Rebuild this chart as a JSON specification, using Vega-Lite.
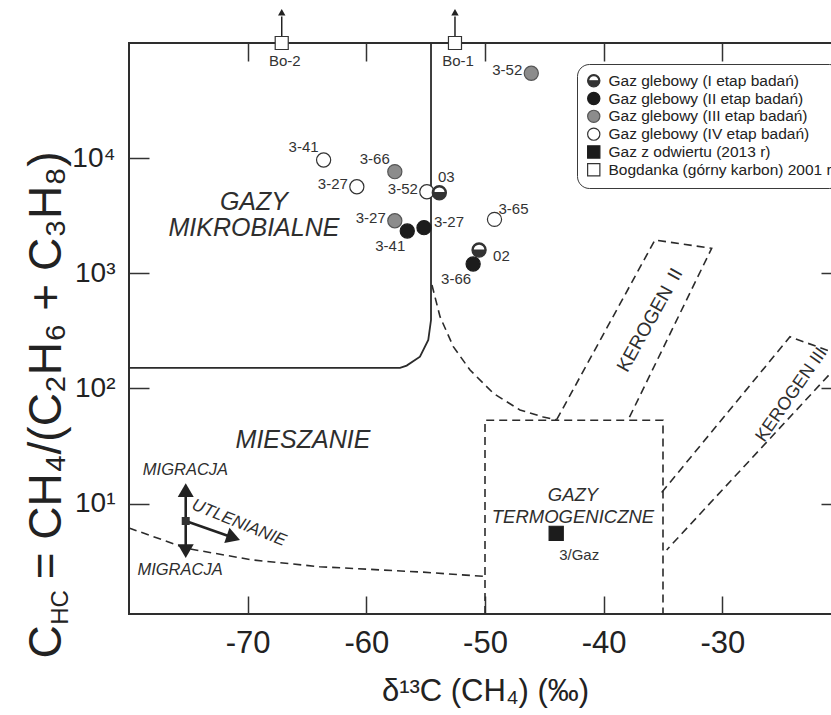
{
  "$schema": "https://vega.github.io/schema/vega-lite/v6.json",
  "width": 712,
  "height": 571,
  "autosize": {"type": "none"},
  "padding": {"left": 129, "top": 43, "right": 0, "bottom": 101},
  "background": "#ffffff",
  "config": {
    "font": "Liberation Sans",
    "view": {"stroke": "#2e2e2e", "strokeWidth": 2},
    "axis": {"grid": false, "domain": false, "tickColor": "#333333", "tickWidth": 1.5, "labelColor": "#222222", "titleColor": "#222222", "labelFont": "Liberation Sans", "titleFont": "Liberation Sans", "titleFontWeight": "normal"},
    "legend": {"orient": "none", "legendX": 448, "legendY": 21, "padding": 9, "strokeColor": "#3a3a3a", "fillColor": "#ffffff", "cornerRadius": 12, "symbolSize": 150, "symbolStrokeWidth": 1.2, "labelFont": "Liberation Sans", "labelFontSize": 15.5, "labelColor": "#222222", "labelLimit": 400, "labelOffset": 7},
    "text": {"font": "Liberation Sans", "color": "#2b2b2b"}
  },
  "datasets": {
    "lines": [
      {"id": "mikro", "i": 1, "kind": "solid", "x": -54.55, "y": 100000},
      {"id": "mikro", "i": 2, "kind": "solid", "x": -54.55, "y": 393},
      {"id": "mikro", "i": 3, "kind": "solid", "x": -54.78, "y": 264},
      {"id": "mikro", "i": 4, "kind": "solid", "x": -55.48, "y": 189},
      {"id": "mikro", "i": 5, "kind": "solid", "x": -56.6, "y": 158},
      {"id": "mikro", "i": 6, "kind": "solid", "x": -57.16, "y": 151},
      {"id": "mikro", "i": 7, "kind": "solid", "x": -80, "y": 151},
      {"id": "curve", "i": 1, "kind": "dashed", "x": -54.47, "y": 791},
      {"id": "curve", "i": 2, "kind": "dashed", "x": -53.79, "y": 420},
      {"id": "curve", "i": 3, "kind": "dashed", "x": -52.67, "y": 230.5},
      {"id": "curve", "i": 4, "kind": "dashed", "x": -51.26, "y": 144.6},
      {"id": "curve", "i": 5, "kind": "dashed", "x": -49.3, "y": 90.8},
      {"id": "curve", "i": 6, "kind": "dashed", "x": -47.05, "y": 65},
      {"id": "curve", "i": 7, "kind": "dashed", "x": -45.09, "y": 56.5},
      {"id": "curve", "i": 8, "kind": "dashed", "x": -43.96, "y": 53.5},
      {"id": "mix", "i": 1, "kind": "dashed", "x": -80, "y": 6.14},
      {"id": "mix", "i": 2, "kind": "dashed", "x": -75.17, "y": 4.09},
      {"id": "mix", "i": 3, "kind": "dashed", "x": -69.58, "y": 3.24},
      {"id": "mix", "i": 4, "kind": "dashed", "x": -63.92, "y": 2.83},
      {"id": "mix", "i": 5, "kind": "dashed", "x": -55.49, "y": 2.55},
      {"id": "mix", "i": 6, "kind": "dashed", "x": -50, "y": 2.33},
      {"id": "thermo", "i": 1, "kind": "dashed", "x": -50, "y": 1.1},
      {"id": "thermo", "i": 2, "kind": "dashed", "x": -50, "y": 53},
      {"id": "thermo", "i": 3, "kind": "dashed", "x": -35, "y": 53},
      {"id": "thermo", "i": 4, "kind": "dashed", "x": -35, "y": 1.1},
      {"id": "k2", "i": 1, "kind": "dashed", "x": -43.96, "y": 53.5},
      {"id": "k2", "i": 2, "kind": "dashed", "x": -35.68, "y": 1946},
      {"id": "k2", "i": 3, "kind": "dashed", "x": -30.9, "y": 1649},
      {"id": "k2", "i": 4, "kind": "dashed", "x": -37.95, "y": 53},
      {"id": "k3", "i": 1, "kind": "dashed", "x": -35.11, "y": 12.5},
      {"id": "k3", "i": 2, "kind": "dashed", "x": -24.3, "y": 281},
      {"id": "k3", "i": 3, "kind": "dashed", "x": -19.61, "y": 187.6},
      {"id": "k3", "i": 4, "kind": "dashed", "x": -34.69, "y": 3.96},
      {"id": "migr", "i": 1, "kind": "arrow", "x": -75.22, "y": 13.1},
      {"id": "migr", "i": 2, "kind": "arrow", "x": -75.22, "y": 3.87},
      {"id": "utl", "i": 1, "kind": "arrow", "x": -75.22, "y": 7.06},
      {"id": "utl", "i": 2, "kind": "arrow", "x": -71.2, "y": 5.06},
      {"id": "bo2", "i": 1, "kind": "thin", "x": -67.13, "y": 115000},
      {"id": "bo2", "i": 2, "kind": "thin", "x": -67.13, "y": 170000},
      {"id": "bo1", "i": 1, "kind": "thin", "x": -52.53, "y": 115000},
      {"id": "bo1", "i": 2, "kind": "thin", "x": -52.53, "y": 170000}
    ],
    "heads": [
      {"kind": "up", "x": -75.22, "y": 13.1},
      {"kind": "down", "x": -75.22, "y": 3.87},
      {"kind": "utl", "x": -71.2, "y": 5.06},
      {"kind": "junction", "x": -75.22, "y": 7.06},
      {"kind": "bo", "x": -67.13, "y": 185000},
      {"kind": "bo", "x": -52.53, "y": 185000}
    ],
    "annot": [
      {"kind": "region", "text": "GAZY\nMIKROBIALNE", "x": -69.47, "y": 4120},
      {"kind": "region", "text": "MIESZANIE", "x": -65.34, "y": 35.7},
      {"kind": "thermo", "text": "GAZY\nTERMOGENICZNE", "x": -42.59, "y": 11.88},
      {"kind": "migr", "text": "MIGRACJA", "x": -75.24, "y": 19.6},
      {"kind": "migr", "text": "MIGRACJA", "x": -75.7, "y": 2.65},
      {"kind": "utl", "text": "UTLENIANIE", "x": -70.73, "y": 6.79},
      {"kind": "k2", "text": "KEROGEN\u2002II", "x": -36.1, "y": 393},
      {"kind": "k3", "text": "KEROGEN III", "x": -24.16, "y": 87.8},
      {"kind": "sub", "text": "HC", "x": -85.14, "y": 0.886}
    ],
    "pts": [
      {"x": -46.1, "y": 54600, "group": "Gaz glebowy (III etap badań)", "label": "3-52", "pos": "W"},
      {"x": -57.6, "y": 7630, "group": "Gaz glebowy (III etap badań)", "label": "3-66", "pos": "NW"},
      {"x": -57.6, "y": 2860, "group": "Gaz glebowy (III etap badań)", "label": "3-27", "pos": "W"},
      {"x": -56.55, "y": 2330, "group": "Gaz glebowy (II etap badań)", "label": "3-41", "pos": "SW"},
      {"x": -55.14, "y": 2490, "group": "Gaz glebowy (II etap badań)", "label": "3-27", "pos": "E"},
      {"x": -51.0, "y": 1205, "group": "Gaz glebowy (II etap badań)", "label": "3-66", "pos": "SW"},
      {"x": -63.6, "y": 9640, "group": "Gaz glebowy (IV etap badań)", "label": "3-41", "pos": "NW"},
      {"x": -60.8, "y": 5650, "group": "Gaz glebowy (IV etap badań)", "label": "3-27", "pos": "W"},
      {"x": -54.9, "y": 5110, "group": "Gaz glebowy (IV etap badań)", "label": "3-52", "pos": "W"},
      {"x": -49.2, "y": 2940, "group": "Gaz glebowy (IV etap badań)", "label": "3-65", "pos": "NE"},
      {"x": -53.85, "y": 5010, "group": "Gaz glebowy (I etap badań)", "label": "03", "pos": "N"},
      {"x": -50.5, "y": 1593, "group": "Gaz glebowy (I etap badań)", "label": "02", "pos": "SE"},
      {"x": -44.0, "y": 5.52, "group": "Gaz z odwiertu (2013 r)", "label": "3/Gaz", "pos": "S2"},
      {"x": -67.13, "y": 100000, "group": "Bogdanka (górny karbon) 2001 r", "label": "Bo-2", "pos": "S"},
      {"x": -52.53, "y": 100000, "group": "Bogdanka (górny karbon) 2001 r", "label": "Bo-1", "pos": "S"}
    ]
  },
  "encoding": {
    "x": {"field": "x", "type": "quantitative", "scale": {"domain": [-80, -20], "nice": false, "zero": false}, "axis": null},
    "y": {"field": "y", "type": "quantitative", "scale": {"type": "log", "domain": [1.1, 100000], "nice": false}, "axis": null}
  },
  "layer": [
    {
      "data": {"name": "lines"},
      "transform": [{"filter": "datum.kind == 'solid'"}],
      "mark": {"type": "line", "stroke": "#2b2b2b", "strokeWidth": 1.8, "clip": false},
      "encoding": {
        "x": {"field": "x", "type": "quantitative", "scale": {"domain": [-80, -20], "nice": false, "zero": false},
          "axis": {"orient": "bottom", "values": [-70, -60, -50, -40, -30], "tickSize": -18, "labelPadding": 56, "labelBaseline": "alphabetic", "labelFontSize": 31, "labelFlush": false, "labelOverlap": false, "labelExpr": "'-' + (-datum.value)", "title": "δ¹³C (CH₄) (‰)", "titleFontSize": 31, "titleY": 86, "titleBaseline": "alphabetic"}},
        "y": {"field": "y", "type": "quantitative", "scale": {"type": "log", "domain": [1.1, 100000], "nice": false},
          "axis": {"orient": "left", "values": [10, 100, 1000, 10000], "tickSize": -20, "labelPadding": 34, "labelFontSize": 28, "labelFlush": false, "labelOverlap": false, "labelExpr": "datum.value == 10 ? '10¹' : datum.value == 100 ? '10²' : datum.value == 1000 ? '10³' : '10⁴'", "title": "C\u2002\u2002= CH₄/(C₂H₆ + C₃H₈)", "titleFontSize": 46, "titleAngle": 270, "titleAlign": "left", "titleBaseline": "alphabetic", "titleX": -69, "titleY": 615}},
        "detail": {"field": "id"},
        "order": {"field": "i", "type": "quantitative"}
      }
    },
    {
      "data": {"name": "lines"},
      "transform": [{"filter": "datum.kind == 'dashed'"}],
      "mark": {"type": "line", "stroke": "#2b2b2b", "strokeWidth": 1.6, "strokeDash": [8, 5], "clip": false},
      "encoding": {
        "x": {"field": "x", "type": "quantitative", "scale": {"domain": [-80, -20], "nice": false, "zero": false},
          "axis": {"orient": "top", "values": [-70, -60, -50, -40, -30], "tickSize": -18, "labels": false, "title": null}},
        "y": {"field": "y", "type": "quantitative", "scale": {"type": "log", "domain": [1.1, 100000], "nice": false},
          "axis": {"orient": "right", "values": [10, 100, 1000, 10000], "tickSize": -20, "labels": false, "title": null}},
        "detail": {"field": "id"},
        "order": {"field": "i", "type": "quantitative"}
      }
    },
    {
      "data": {"name": "lines"},
      "transform": [{"filter": "datum.kind == 'arrow'"}],
      "mark": {"type": "line", "stroke": "#222222", "strokeWidth": 2.6, "clip": false},
      "encoding": {"detail": {"field": "id"}, "order": {"field": "i", "type": "quantitative"}}
    },
    {
      "data": {"name": "lines"},
      "transform": [{"filter": "datum.kind == 'thin'"}],
      "mark": {"type": "line", "stroke": "#222222", "strokeWidth": 1.5, "clip": false},
      "encoding": {"detail": {"field": "id"}, "order": {"field": "i", "type": "quantitative"}}
    },
    {
      "data": {"name": "heads"},
      "transform": [{"filter": "datum.kind == 'up'"}],
      "mark": {"type": "point", "shape": "triangle-up", "size": 256, "filled": true, "fill": "#222222", "opacity": 1, "strokeWidth": 0, "clip": false}
    },
    {
      "data": {"name": "heads"},
      "transform": [{"filter": "datum.kind == 'down'"}],
      "mark": {"type": "point", "shape": "triangle-down", "size": 256, "filled": true, "fill": "#222222", "opacity": 1, "strokeWidth": 0, "clip": false}
    },
    {
      "data": {"name": "heads"},
      "transform": [{"filter": "datum.kind == 'utl'"}],
      "mark": {"type": "point", "shape": "triangle-right", "angle": 19, "size": 256, "filled": true, "fill": "#222222", "opacity": 1, "strokeWidth": 0, "clip": false}
    },
    {
      "data": {"name": "heads"},
      "transform": [{"filter": "datum.kind == 'junction'"}],
      "mark": {"type": "point", "shape": "square", "size": 64, "filled": true, "fill": "#333333", "opacity": 1, "strokeWidth": 0, "clip": false}
    },
    {
      "data": {"name": "heads"},
      "transform": [{"filter": "datum.kind == 'bo'"}],
      "mark": {"type": "point", "shape": "triangle-up", "size": 55, "filled": true, "fill": "#222222", "opacity": 1, "strokeWidth": 0, "clip": false}
    },
    {
      "data": {"name": "annot"},
      "transform": [{"filter": "datum.kind == 'region'"}],
      "mark": {"type": "text", "fontSize": 25, "fontStyle": "italic", "align": "center", "baseline": "middle", "lineBreak": "\n", "lineHeight": 26, "color": "#2e2e2e"},
      "encoding": {"text": {"field": "text"}}
    },
    {
      "data": {"name": "annot"},
      "transform": [{"filter": "datum.kind == 'thermo'"}],
      "mark": {"type": "text", "fontSize": 18.5, "fontStyle": "italic", "align": "center", "baseline": "middle", "lineBreak": "\n", "lineHeight": 22, "color": "#2e2e2e"},
      "encoding": {"text": {"field": "text"}}
    },
    {
      "data": {"name": "annot"},
      "transform": [{"filter": "datum.kind == 'migr'"}],
      "mark": {"type": "text", "fontSize": 16.5, "fontStyle": "italic", "align": "center", "baseline": "middle", "color": "#2e2e2e", "clip": false},
      "encoding": {"text": {"field": "text"}}
    },
    {
      "data": {"name": "annot"},
      "transform": [{"filter": "datum.kind == 'utl'"}],
      "mark": {"type": "text", "fontSize": 17, "fontStyle": "italic", "align": "center", "baseline": "middle", "angle": 22, "color": "#2e2e2e"},
      "encoding": {"text": {"field": "text"}}
    },
    {
      "data": {"name": "annot"},
      "transform": [{"filter": "datum.kind == 'k2'"}],
      "mark": {"type": "text", "fontSize": 19, "align": "center", "baseline": "middle", "angle": -61, "color": "#2e2e2e"},
      "encoding": {"text": {"field": "text"}}
    },
    {
      "data": {"name": "annot"},
      "transform": [{"filter": "datum.kind == 'k3'"}],
      "mark": {"type": "text", "fontSize": 18, "align": "center", "baseline": "middle", "angle": -55, "color": "#2e2e2e"},
      "encoding": {"text": {"field": "text"}}
    },
    {
      "data": {"name": "annot"},
      "transform": [{"filter": "datum.kind == 'sub'"}],
      "mark": {"type": "text", "fontSize": 24, "align": "left", "baseline": "alphabetic", "angle": 270, "color": "#222222"},
      "encoding": {"text": {"field": "text"}}
    },
    {
      "data": {"name": "pts"},
      "transform": [{"filter": "datum.group != 'Bogdanka (górny karbon) 2001 r'"}],
      "mark": {"type": "point", "filled": true, "opacity": 1, "strokeWidth": 1.2, "size": 200, "clip": false},
      "encoding": {
        "shape": {"field": "group", "type": "nominal",
          "scale": {"domain": ["Gaz glebowy (I etap badań)", "Gaz glebowy (II etap badań)", "Gaz glebowy (III etap badań)", "Gaz glebowy (IV etap badań)", "Gaz z odwiertu (2013 r)", "Bogdanka (górny karbon) 2001 r"],
            "range": ["M-1,0A1,1,0,0,0,1,0Z M-1,0A1,1,0,0,1,1,0L0.84,0A0.84,0.84,0,0,0,-0.84,0Z", "circle", "circle", "circle", "square", "square"]},
          "legend": {"title": null, "rowPadding": -0.2}},
        "fill": {"field": "group", "type": "nominal",
          "scale": {"domain": ["Gaz glebowy (I etap badań)", "Gaz glebowy (II etap badań)", "Gaz glebowy (III etap badań)", "Gaz glebowy (IV etap badań)", "Gaz z odwiertu (2013 r)", "Bogdanka (górny karbon) 2001 r"],
            "range": ["#333333", "#1c1c1c", "#8c8c8c", "#ffffff", "#1c1c1c", "#ffffff"]},
          "legend": {"title": null, "rowPadding": -0.2}},
        "stroke": {"field": "group", "type": "nominal",
          "scale": {"domain": ["Gaz glebowy (I etap badań)", "Gaz glebowy (II etap badań)", "Gaz glebowy (III etap badań)", "Gaz glebowy (IV etap badań)", "Gaz z odwiertu (2013 r)", "Bogdanka (górny karbon) 2001 r"],
            "range": ["#333333", "#1c1c1c", "#555555", "#333333", "#1c1c1c", "#333333"]},
          "legend": {"title": null, "rowPadding": -0.2}}
      }
    },
    {
      "data": {"name": "pts"},
      "transform": [{"filter": "datum.group == 'Bogdanka (górny karbon) 2001 r'"}],
      "mark": {"type": "point", "filled": true, "opacity": 1, "strokeWidth": 1.2, "size": 170, "clip": false},
      "encoding": {
        "shape": {"field": "group", "type": "nominal", "legend": {"title": null, "rowPadding": -0.2}},
        "fill": {"field": "group", "type": "nominal", "legend": {"title": null, "rowPadding": -0.2}},
        "stroke": {"field": "group", "type": "nominal", "legend": {"title": null, "rowPadding": -0.2}}
      }
    },
    {"data": {"name": "pts"}, "transform": [{"filter": "datum.pos == 'W'"}], "mark": {"type": "text", "fontSize": 15, "align": "right", "baseline": "middle", "dx": -9, "dy": -3, "color": "#333333"}, "encoding": {"text": {"field": "label"}}},
    {"data": {"name": "pts"}, "transform": [{"filter": "datum.pos == 'NW'"}], "mark": {"type": "text", "fontSize": 15, "align": "right", "baseline": "middle", "dx": -5, "dy": -13, "color": "#333333"}, "encoding": {"text": {"field": "label"}}},
    {"data": {"name": "pts"}, "transform": [{"filter": "datum.pos == 'N'"}], "mark": {"type": "text", "fontSize": 15, "align": "center", "baseline": "middle", "dx": 7, "dy": -16, "color": "#333333"}, "encoding": {"text": {"field": "label"}}},
    {"data": {"name": "pts"}, "transform": [{"filter": "datum.pos == 'NE'"}], "mark": {"type": "text", "fontSize": 15, "align": "left", "baseline": "middle", "dx": 4, "dy": -10, "color": "#333333"}, "encoding": {"text": {"field": "label"}}},
    {"data": {"name": "pts"}, "transform": [{"filter": "datum.pos == 'E'"}], "mark": {"type": "text", "fontSize": 15, "align": "left", "baseline": "middle", "dx": 10, "dy": -6, "color": "#333333"}, "encoding": {"text": {"field": "label"}}},
    {"data": {"name": "pts"}, "transform": [{"filter": "datum.pos == 'SE'"}], "mark": {"type": "text", "fontSize": 15, "align": "left", "baseline": "middle", "dx": 14, "dy": 6, "color": "#333333"}, "encoding": {"text": {"field": "label"}}},
    {"data": {"name": "pts"}, "transform": [{"filter": "datum.pos == 'S'"}], "mark": {"type": "text", "fontSize": 15, "align": "center", "baseline": "middle", "dx": 3, "dy": 18, "color": "#333333"}, "encoding": {"text": {"field": "label"}}},
    {"data": {"name": "pts"}, "transform": [{"filter": "datum.pos == 'SW'"}], "mark": {"type": "text", "fontSize": 15, "align": "center", "baseline": "middle", "dx": -17, "dy": 15, "color": "#333333"}, "encoding": {"text": {"field": "label"}}},
    {"data": {"name": "pts"}, "transform": [{"filter": "datum.pos == 'S2'"}], "mark": {"type": "text", "fontSize": 15, "align": "center", "baseline": "middle", "dx": 23, "dy": 22, "color": "#333333"}, "encoding": {"text": {"field": "label"}}}
  ],
  "resolve": {"axis": {"x": "independent", "y": "independent"}}
}
